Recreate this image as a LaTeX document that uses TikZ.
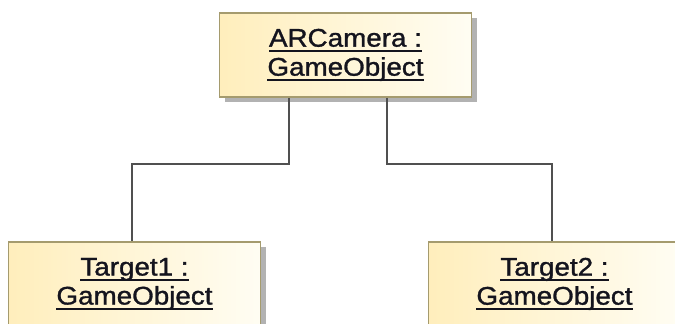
\documentclass[tikz,border=0pt]{standalone}
\usepackage{fontspec}
\setmainfont{Liberation Sans}
\usetikzlibrary{shadows}
\definecolor{objborder}{RGB}{165,155,110}
\definecolor{objleft}{RGB}{255,238,188}
\definecolor{objright}{RGB}{255,253,243}
\definecolor{objshadow}{RGB}{178,178,178}
\definecolor{linkgray}{RGB}{80,80,80}
\definecolor{objtext}{RGB}{20,20,30}
% underline at a fixed depth below the baseline
\newcommand\objul[1]{\setbox0\hbox{#1}\rlap{\rule[-5.5pt]{\wd0}{1.8pt}}\box0}
\tikzset{
  objbox/.style={draw=objborder, line width=1.8pt,
    left color=objleft, right color=objright,
    minimum width=252pt, minimum height=84pt, inner sep=0pt,
    align=center, text=objtext,
    font=\fontsize{25.5}{29}\selectfont\addfontfeature{FakeStretch=1.09,FakeBold=1.2},
    drop shadow={shadow xshift=5pt, shadow yshift=-5pt, fill=objshadow, opacity=1}},
  link/.style={draw=linkgray, line width=2pt}
}
\begin{document}
\begin{tikzpicture}[x=1pt,y=-1pt]
\useasboundingbox (0,0) rectangle (675,324);
\node[objbox] (cam) at (345.5,55) {\objul{ARCamera :}\\\objul{GameObject}};
\node[objbox] (tgt1) at (134.5,284) {\objul{Target1 :}\\\objul{GameObject}};
\node[objbox] (tgt2) at (554.5,284) {\objul{Target2 :}\\\objul{GameObject}};
\coordinate (lvl) at (0,164);
\draw[link] ([xshift=-56.5pt]cam.south) -- ([xshift=-56.5pt]cam.south |- lvl)
  -| ([xshift=-2.5pt]tgt1.north);
\draw[link] ([xshift=41.5pt]cam.south) -- ([xshift=41.5pt]cam.south |- lvl)
  -| ([xshift=-2.5pt]tgt2.north);
\end{tikzpicture}
\end{document}
